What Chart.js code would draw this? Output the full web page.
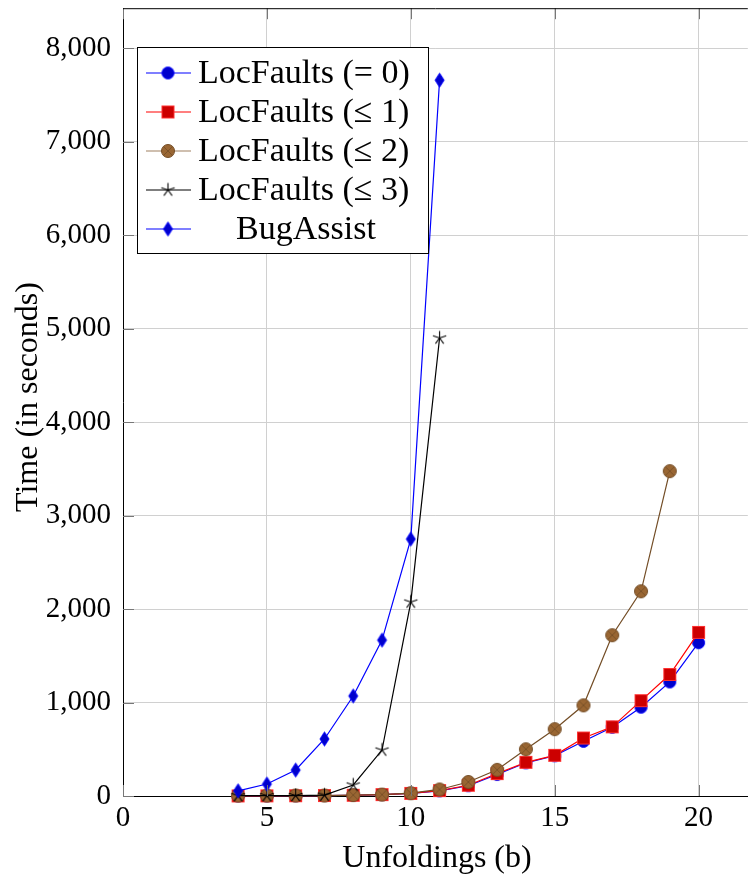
<!DOCTYPE html>
<html>
<head>
<meta charset="utf-8">
<script src="https://cdn.jsdelivr.net/npm/chart.js@4.4.0/dist/chart.umd.min.js"></script>
<style>
  html, body { margin: 0; padding: 0; background: #fff; overflow: hidden; }
  canvas { display: block; }
</style>
</head>
<body>
<canvas id="chart" width="756" height="880"></canvas>
<script>
// data
const unfoldings = [4, 5, 6, 7, 8, 9, 10, 11, 12, 13, 14, 15, 16, 17, 18, 19, 20];
const locFaults0 = [1, 2, 3, 5, 8, 15, 28, 55, 110, 230, 355, 430, 585, 735, 950, 1220, 1640];
const locFaults1 = [1, 2, 3, 5, 8, 15, 28, 58, 115, 240, 360, 435, 620, 740, 1020, 1300, 1750];
const locFaults2 = [5, 5, 5, 5, 10, 15, 30, 70, 150, 280, 500, 715, 970, 1720, 2190, 3475];
const locFaults3 = [3, 4, 5, 10, 118, 492, 2075, 4900];
const bugAssist = [55, 128, 278, 610, 1070, 1668, 2749, 7658];
const seriesNames = ['LocFaults (= 0)', 'LocFaults (\u2264 1)', 'LocFaults (\u2264 2)', 'LocFaults (\u2264 3)', 'BugAssist'];
const xTicks = [0, 5, 10, 15, 20];
const yTicks = [0, 1000, 2000, 3000, 4000, 5000, 6000, 7000, 8000];

const SERIF = '"Liberation Serif", "Times New Roman", serif';

function toPoints(ys) {
    return ys.map((y, i) => ({ x: unfoldings[i], y: y }));
}

// marker images (pgfplots style marks)
function makeMarker(w, h, draw) {
    const c = document.createElement('canvas');
    c.width = w;
    c.height = h;
    const ctx = c.getContext('2d');
    draw(ctx, w / 2, h / 2);
    return c;
}

const circleMark = makeMarker(15, 15, (ctx, cx, cy) => {
    ctx.beginPath();
    ctx.arc(cx, cy, 6, 0, Math.PI * 2);
    ctx.fillStyle = '#0000cc';
    ctx.fill();
    ctx.strokeStyle = '#0000ff';
    ctx.lineWidth = 1;
    ctx.stroke();
});

const squareMark = makeMarker(15, 15, (ctx, cx, cy) => {
    ctx.fillStyle = '#cc0000';
    ctx.fillRect(cx - 6, cy - 6, 12, 12);
    ctx.strokeStyle = '#ff3030';
    ctx.lineWidth = 1;
    ctx.strokeRect(cx - 6, cy - 6, 12, 12);
});

const otimesMark = makeMarker(16, 16, (ctx, cx, cy) => {
    ctx.beginPath();
    ctx.arc(cx, cy, 6.5, 0, Math.PI * 2);
    ctx.fillStyle = '#996633';
    ctx.fill();
    ctx.strokeStyle = '#734d26';
    ctx.lineWidth = 1;
    ctx.stroke();
    const d = 6.5 * Math.SQRT1_2;
    ctx.beginPath();
    ctx.moveTo(cx - d, cy - d); ctx.lineTo(cx + d, cy + d);
    ctx.moveTo(cx + d, cy - d); ctx.lineTo(cx - d, cy + d);
    ctx.lineWidth = 0.8;
    ctx.stroke();
});

const starMark = makeMarker(17, 17, (ctx, cx, cy) => {
    ctx.beginPath();
    for (let k = 0; k < 5; k++) {
        const a = -Math.PI / 2 + k * 2 * Math.PI / 5;
        ctx.moveTo(cx, cy);
        ctx.lineTo(cx + 7 * Math.cos(a), cy + 7 * Math.sin(a));
    }
    ctx.strokeStyle = '#000';
    ctx.lineWidth = 1.1;
    ctx.stroke();
});

const diamondMark = makeMarker(13, 17, (ctx, cx, cy) => {
    ctx.beginPath();
    ctx.moveTo(cx, cy - 7);
    ctx.lineTo(cx + 4.5, cy);
    ctx.lineTo(cx, cy + 7);
    ctx.lineTo(cx - 4.5, cy);
    ctx.closePath();
    ctx.fillStyle = '#0000cc';
    ctx.fill();
    ctx.strokeStyle = '#0000ff';
    ctx.lineWidth = 1;
    ctx.stroke();
});

const lineColors = ['#0000ff', '#ff0000', '#734d26', '#000000', '#0000ff'];
const legendLineColors = ['#0000ff', '#ff0000', '#a08060', '#000000', '#0000ff'];
const marks = [circleMark, squareMark, otimesMark, starMark, diamondMark];
const seriesData = [locFaults0, locFaults1, locFaults2, locFaults3, bugAssist];

const datasets = seriesData.map((ys, i) => ({
    label: seriesNames[i],
    data: toPoints(ys),
    borderColor: lineColors[i],
    backgroundColor: lineColors[i],
    borderWidth: 1.2,
    pointStyle: marks[i],
    pointRadius: 7,
    pointHoverRadius: 7,
    tension: 0,
    fill: false,
    clip: false,
    order: 5 - i
}));

// legend box inside the plot
const boxLegend = {
    id: 'boxLegend',
    afterDraw(chart) {
        const ctx = chart.ctx;
        ctx.save();
        ctx.fillStyle = '#fff';
        ctx.fillRect(137.5, 47.5, 291, 206);
        ctx.strokeStyle = '#000';
        ctx.lineWidth = 1;
        ctx.strokeRect(137.5, 47.5, 291, 206);
        chart.data.datasets.forEach((ds, i) => {
            const y = 73 + i * 39;
            ctx.strokeStyle = legendLineColors[i];
            ctx.lineWidth = 1.2;
            ctx.beginPath();
            ctx.moveTo(146, y);
            ctx.lineTo(191, y);
            ctx.stroke();
            const m = marks[i];
            ctx.drawImage(m, 168 - m.width / 2, y - m.height / 2);
            ctx.fillStyle = '#000';
            ctx.font = '34px ' + SERIF;
            ctx.textBaseline = 'middle';
            if (i === 4) {
                ctx.textAlign = 'center';
                ctx.fillText(ds.label, 306, y + 1);
            } else {
                ctx.textAlign = 'left';
                ctx.fillText(ds.label, 198, y + 1);
            }
        });
        ctx.restore();
    }
};

// top frame line, inner tick marks and axis titles
const frameAndTitles = {
    id: 'frameAndTitles',
    afterDatasetsDraw(chart) {
        const ctx = chart.ctx;
        const a = chart.chartArea;
        const xs = chart.scales.x;
        const ys = chart.scales.y;
        ctx.save();
        ctx.strokeStyle = '#777';
        ctx.lineWidth = 1;
        ctx.beginPath();
        xs.ticks.forEach(t => {
            const px = Math.round(xs.getPixelForValue(t.value)) + 0.5;
            ctx.moveTo(px, a.bottom); ctx.lineTo(px, a.bottom - 11);
            ctx.moveTo(px, a.top); ctx.lineTo(px, a.top + 11);
        });
        ys.ticks.forEach(t => {
            const py = Math.round(ys.getPixelForValue(t.value)) + 0.5;
            ctx.moveTo(a.left, py); ctx.lineTo(a.left + 11, py);
        });
        ctx.stroke();
        ctx.strokeStyle = '#000';
        ctx.beginPath();
        ctx.moveTo(a.left, a.top + 0.5);
        ctx.lineTo(a.right, a.top + 0.5);
        ctx.stroke();
        ctx.restore();
    },
    afterDraw(chart) {
        const ctx = chart.ctx;
        ctx.save();
        ctx.fillStyle = '#000';
        ctx.textAlign = 'center';
        ctx.textBaseline = 'middle';
        ctx.font = '32px ' + SERIF;
        ctx.fillText('Unfoldings (b)', 437, 859);
        ctx.translate(29, 397);
        ctx.rotate(-Math.PI / 2);
        ctx.font = '32px ' + SERIF;
        ctx.fillText('Time (in seconds)', 0, 0);
        ctx.restore();
    }
};

function noPadding(s) {
    s.paddingTop = 0;
    s.paddingBottom = 0;
    s.paddingLeft = 0;
    s.paddingRight = 0;
}

new Chart(document.getElementById('chart'), {
    type: 'line',
    data: { datasets: datasets },
    plugins: [frameAndTitles, boxLegend],
    options: {
        responsive: false,
        animation: false,
        layout: { padding: { top: 8, right: 1, left: 0, bottom: 0 } },
        plugins: { legend: { display: false }, tooltip: { enabled: false } },
        scales: {
            x: {
                type: 'linear',
                min: 0,
                max: 21.71,
                afterFit: s => { s.height = 84; noPadding(s); },
                afterBuildTicks: s => { s.ticks = xTicks.map(v => ({ value: v })); },
                ticks: {
                    color: '#000',
                    padding: 5,
                    font: { family: SERIF, size: 29 }
                },
                grid: { color: '#d0d0d0', lineWidth: 1, drawTicks: false },
                border: { color: '#000', width: 1 }
            },
            y: {
                min: 0,
                max: 8428,
                afterFit: s => { s.width = 123; noPadding(s); },
                afterBuildTicks: s => { s.ticks = yTicks.map(v => ({ value: v })); },
                ticks: {
                    color: '#000',
                    padding: 12,
                    font: { family: SERIF, size: 29 },
                    callback: v => v.toLocaleString('en-US')
                },
                grid: { color: '#d0d0d0', lineWidth: 1, drawTicks: false },
                border: { color: '#000', width: 1 }
            }
        }
    }
});
</script>
</body>
</html>
